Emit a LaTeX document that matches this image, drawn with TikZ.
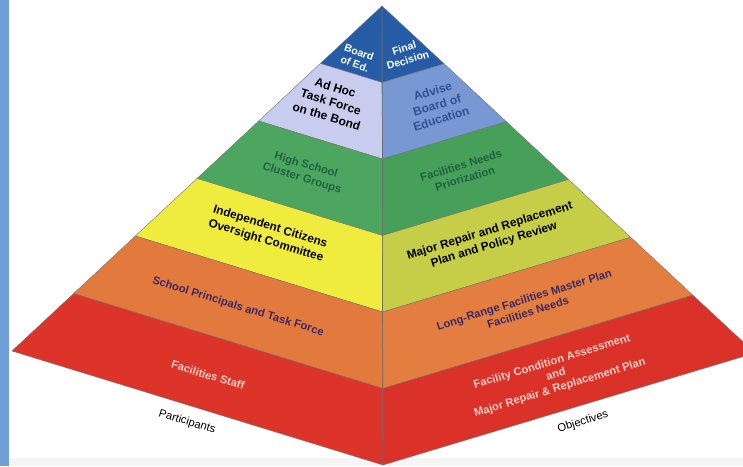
\documentclass[tikz,border=0pt]{standalone}
\usepackage{fontspec}
\setmainfont{Liberation Sans}
\usetikzlibrary{calc}

\definecolor{sidebar}{RGB}{110,160,215}
\definecolor{topblue}{RGB}{38,92,165}
\definecolor{lavender}{RGB}{200,204,238}
\definecolor{midblue}{RGB}{120,152,212}
\definecolor{lgreen}{RGB}{76,166,96}
\definecolor{rgreen}{RGB}{70,160,90}
\definecolor{lyellow}{RGB}{240,236,62}
\definecolor{ryellow}{RGB}{198,206,72}
\definecolor{lorange}{RGB}{226,122,62}
\definecolor{rorange}{RGB}{228,126,64}
\definecolor{lred}{RGB}{220,52,40}
\definecolor{rred}{RGB}{218,50,40}
\definecolor{navytext}{RGB}{60,40,100}
\definecolor{bluetext}{RGB}{50,80,150}
\definecolor{greentext}{RGB}{35,95,65}
\definecolor{pinktext}{RGB}{246,205,198}

\begin{document}
\begin{tikzpicture}[x=1pt, y=-1pt,
  every node/.style = {align=center, inner sep=0pt,
    font=\bfseries\fontsize{11.2}{13.5}\selectfont},
  leftlbl/.style = {rotate=-17},
  rightlbl/.style = {rotate=17},
  band/.style = {draw=black!55, line width=0.4pt}]
  \useasboundingbox (0,0) rectangle (743,466);
  \clip (0,0) rectangle (743,466);
  \fill[sidebar] (0,0) rectangle (9,466);
  \fill[black!4] (9,458) rectangle (743,466);

  % corners of the pyramid
  \coordinate (A) at (382,6);
  \coordinate (L) at (12,351);
  \coordinate (B) at (383,465);
  \coordinate (R) at (755,353);

  % six bands on each face
  \foreach \lc/\rc [count=\k from 0] in {topblue/topblue, lavender/midblue,
      lgreen/rgreen, lyellow/ryellow, lorange/rorange, lred/rred} {
    \pgfmathsetmacro\ta{\k/6}
    \pgfmathsetmacro\tb{(\k+1)/6}
    \filldraw[band, fill=\lc] ($(A)!\ta!(L)$) -- ($(A)!\ta!(B)$)
      -- ($(A)!\tb!(B)$) -- ($(A)!\tb!(L)$) -- cycle;
    \filldraw[band, fill=\rc] ($(A)!\ta!(R)$) -- ($(A)!\ta!(B)$)
      -- ($(A)!\tb!(B)$) -- ($(A)!\tb!(R)$) -- cycle;
  }
  \draw[black!60, line width=0.5pt] (A) -- (B);

  % participants
  \node[leftlbl, rotate=-3, text=white, font=\bfseries\fontsize{10.5}{12.5}\selectfont] (board) at (357,58) {Board\\of Ed.};
  \node[leftlbl, font=\bfseries\fontsize{12}{15}\selectfont] (adhoc) at (331,102) {Ad Hoc\\Task Force\\on the Bond};
  \node[leftlbl, text=greentext] (cluster) at (304,172) {High School\\Cluster Groups};
  \node[leftlbl, font=\bfseries\fontsize{11.8}{14.5}\selectfont] (citizens) at (268,234) {Independent Citizens\\Oversight Committee};
  \node[leftlbl, text=navytext] (principals) at (238,307) {School Principals and Task Force};
  \node[leftlbl, text=pinktext] (staff) at (208,375) {Facilities Staff};
  \node[leftlbl, font=\fontsize{11.2}{13}\selectfont] (participants) at (187,422) {Participants};

  % objectives
  \node[rightlbl, text=white, font=\bfseries\fontsize{10.5}{12.5}\selectfont] (final) at (406,54) {Final\\Decision};
  \node[rightlbl, text=bluetext, font=\bfseries\fontsize{12}{14.5}\selectfont] (advise) at (437,105) {Advise\\Board of\\Education};
  \node[rightlbl, text=greentext] (needs) at (463,172) {Facilities Needs\\Priorization};
  \node[rightlbl, font=\bfseries\fontsize{11.8}{14.5}\selectfont] (major) at (492,238) {Major Repair and Replacement\\Plan and Policy Review};
  \node[rightlbl, text=navytext] (longrange) at (526,306) {Long-Range Facilities Master Plan\\Facilities Needs};
  \node[rightlbl, text=pinktext] (condition) at (556,375) {Facility Condition Assessment\\and\\Major Repair \& Replacement Plan};
  \node[rightlbl, font=\fontsize{11.2}{13}\selectfont] (objectives) at (583,422) {Objectives};
\end{tikzpicture}
\end{document}
